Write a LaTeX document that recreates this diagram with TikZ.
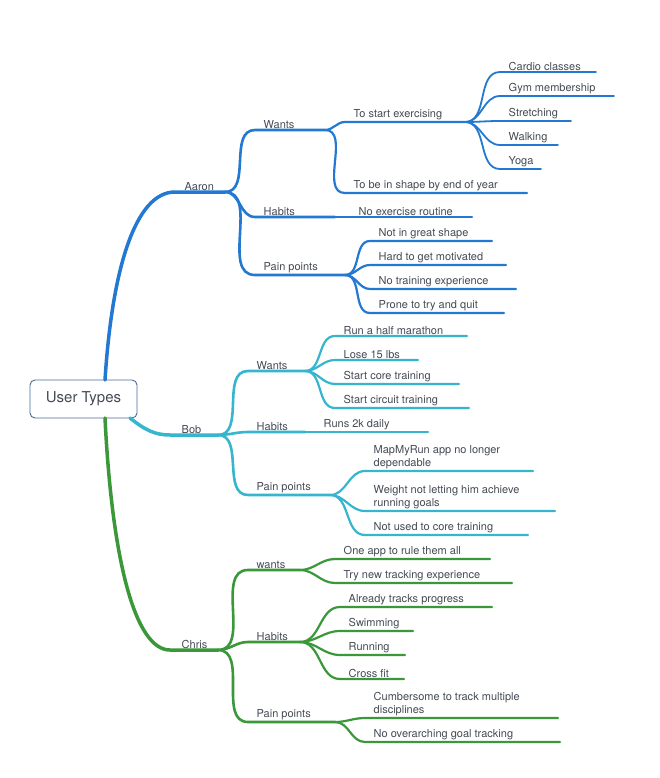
\documentclass[tikz,border=0pt]{standalone}
\usepackage{fontspec}
\setmainfont{TeX Gyre Heros}
\definecolor{cA}{HTML}{2379D2}
\definecolor{cB}{HTML}{35B6CE}
\definecolor{cC}{HTML}{3A983A}
\definecolor{tx}{HTML}{454B55}
\newcommand\br[8]{%
 \coordinate (#2s) at (#3pt,-#4pt); \coordinate (#2) at (#5pt,-#4pt);
 \node[lbl] (#2t) at ([xshift=7pt]#2s) {#6};
 \draw[#7,line width=#8,line cap=round] (#1) to[out=0,in=180] (#2s) -- (#2);}
\begin{document}
\begin{tikzpicture}[x=1pt,y=1pt,lbl/.style={anchor=south west,text=tx,font=\fontsize{11}{13}\selectfont,inner sep=1.5pt,align=left}]
\useasboundingbox[fill=white] (0,0) rectangle (660,-778);
\node[draw=cA!60!black!80,rounded corners=5pt,line width=0.9pt,minimum width=107pt,minimum height=38pt,text=tx,font=\fontsize{15}{18}\selectfont] (root) at (83.5,-399) {User Types};
% Aaron
\coordinate (as) at (175,-192); \coordinate (a) at (225,-192);
\node[lbl] (at) at (183,-192) {Aaron};
\draw[cA,line width=3.5pt,line cap=round] (105,-380) .. controls (112,-270) and (135,-192) .. (as) -- (a);
\br{a}{aw}{255}{130}{325}{Wants}{cA}{2.6pt}
\br{a}{ah}{255}{217}{335}{Habits}{cA}{2.6pt}
\br{a}{ap}{255}{275}{345}{Pain points}{cA}{2.6pt}
\br{aw}{awe}{345}{122}{465}{To start exercising}{cA}{2.2pt}
\br{aw}{aws}{345}{193}{527}{To be in shape by end of year}{cA}{2.2pt}
\br{awe}{c1}{500}{72}{596}{Cardio classes}{cA}{1.8pt}
\br{awe}{c2}{500}{96}{614}{Gym membership}{cA}{1.8pt}
\br{awe}{c3}{500}{121}{571}{Stretching}{cA}{1.8pt}
\br{awe}{c4}{500}{145}{558}{Walking}{cA}{1.8pt}
\br{awe}{c5}{500}{169}{541}{Yoga}{cA}{1.8pt}
\br{ah}{ahn}{345}{217}{472}{\hspace{5pt}No exercise routine}{cA}{2.2pt}
\br{ap}{ap1}{370}{241}{492}{Not in great shape}{cA}{2.2pt}
\br{ap}{ap2}{370}{265}{506}{Hard to get motivated}{cA}{2.2pt}
\br{ap}{ap3}{370}{289}{516}{No training experience}{cA}{2.2pt}
\br{ap}{ap4}{370}{313}{504}{Prone to try and quit}{cA}{2.2pt}
% Bob
\coordinate (bs) at (170,-435); \coordinate (b) at (218,-435);
\node[lbl] (bt) at (180,-435) {Bob};
\draw[cB,line width=3.5pt,line cap=round] (130,-418) .. controls (145,-430) and (155,-435) .. (bs) -- (b);
\br{b}{bw}{248}{371}{305}{Wants}{cB}{2.6pt}
\br{b}{bh}{248}{432}{305}{Habits}{cB}{2.6pt}
\br{b}{bp}{248}{495}{330}{Pain points}{cB}{2.6pt}
\br{bw}{bw1}{335}{336}{467}{Run a half marathon}{cB}{2.2pt}
\br{bw}{bw2}{335}{360}{418}{Lose 15 lbs}{cB}{2.2pt}
\br{bw}{bw3}{335}{384}{459}{Start core training}{cB}{2.2pt}
\br{bw}{bw4}{335}{408}{469}{Start circuit training}{cB}{2.2pt}
\br{bh}{bh1}{305}{432}{428}{\hspace{10pt}Runs 2k daily}{cB}{2.2pt}
\br{bp}{bp1}{365}{471}{533}{MapMyRun app no longer\\dependable}{cB}{2.2pt}
\br{bp}{bp2}{365}{511}{555}{Weight not letting him achieve\\running goals}{cB}{2.2pt}
\br{bp}{bp3}{365}{535}{528}{Not used to core training}{cB}{2.2pt}
% Chris
\coordinate (cs) at (170,-650); \coordinate (c) at (218,-650);
\node[lbl] (ct) at (180,-650) {Chris};
\draw[cC,line width=3.5pt,line cap=round] (105,-418) .. controls (112,-560) and (135,-650) .. (cs) -- (c);
\br{c}{cw}{248}{570}{300}{wants}{cC}{2.6pt}
\br{c}{ch}{248}{642}{300}{Habits}{cC}{2.6pt}
\br{c}{cp}{248}{722}{335}{Pain points}{cC}{2.6pt}
\br{cw}{cw1}{335}{559}{490}{One app to rule them all}{cC}{2.2pt}
\br{cw}{cw2}{335}{583}{512}{Try new tracking experience}{cC}{2.2pt}
\br{ch}{ch1}{340}{607}{492}{Already tracks progress}{cC}{2.2pt}
\br{ch}{ch2}{340}{631}{413}{Swimming}{cC}{2.2pt}
\br{ch}{ch3}{340}{655}{405}{Running}{cC}{2.2pt}
\br{ch}{ch4}{340}{679}{404}{Cross fit}{cC}{2.2pt}
\br{cp}{cp1}{365}{718}{558}{Cumbersome to track multiple\\disciplines}{cC}{2.2pt}
\br{cp}{cp2}{365}{742}{560}{No overarching goal tracking}{cC}{2.2pt}
\end{tikzpicture}
\end{document}
